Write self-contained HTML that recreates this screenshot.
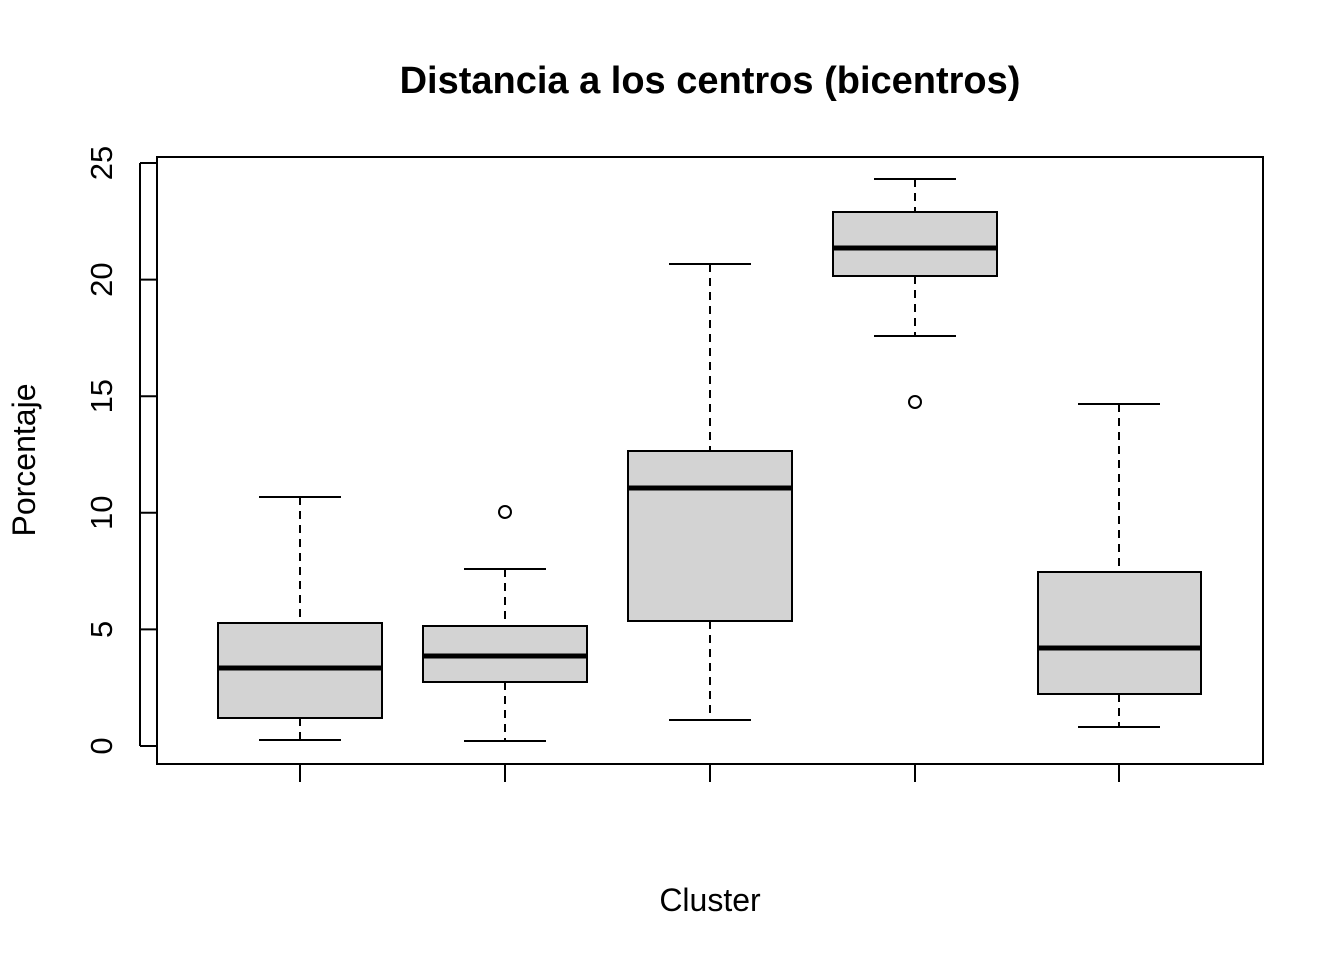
<!DOCTYPE html>
<html><head><meta charset="utf-8"><style>html,body{margin:0;padding:0;background:#fff}</style></head>
<body>
<svg width="1344" height="960" viewBox="0 0 1344 960" xmlns="http://www.w3.org/2000/svg" font-family="Liberation Sans, Arial, sans-serif">
<rect width="1344" height="960" fill="#fff"/>
<text x="710" y="93" text-anchor="middle" font-size="38" font-weight="bold">Distancia a los centros (bicentros)</text>
<text x="710" y="911" text-anchor="middle" font-size="32">Cluster</text>
<text transform="translate(35,460) rotate(-90)" text-anchor="middle" font-size="32">Porcentaje</text>
<g stroke="#000" stroke-width="2" fill="none">
<rect x="157" y="157" width="1106" height="607"/>
<line x1="140" y1="163" x2="140" y2="746"/>
<line x1="140" y1="746" x2="157" y2="746"/>
<line x1="140" y1="629.4" x2="157" y2="629.4"/>
<line x1="140" y1="512.8" x2="157" y2="512.8"/>
<line x1="140" y1="396.2" x2="157" y2="396.2"/>
<line x1="140" y1="279.6" x2="157" y2="279.6"/>
<line x1="140" y1="163" x2="157" y2="163"/>
<line x1="300" y1="764" x2="300" y2="782"/>
<line x1="505" y1="764" x2="505" y2="782"/>
<line x1="710" y1="764" x2="710" y2="782"/>
<line x1="915" y1="764" x2="915" y2="782"/>
<line x1="1119" y1="764" x2="1119" y2="782"/>
</g>
<g font-size="31" text-anchor="middle">
<text transform="translate(112,746) rotate(-90)">0</text>
<text transform="translate(112,629.4) rotate(-90)">5</text>
<text transform="translate(112,512.8) rotate(-90)">10</text>
<text transform="translate(112,396.2) rotate(-90)">15</text>
<text transform="translate(112,279.6) rotate(-90)">20</text>
<text transform="translate(112,163) rotate(-90)">25</text>
</g>
<g stroke="#000" stroke-width="2">
<line x1="300" y1="497" x2="300" y2="623" stroke-dasharray="8,6"/>
<line x1="300" y1="718" x2="300" y2="740" stroke-dasharray="8,6"/>
<line x1="259" y1="497" x2="341" y2="497"/><line x1="259" y1="740" x2="341" y2="740"/>
<rect x="218" y="623" width="164" height="95" fill="#d3d3d3"/>
<line x1="218" y1="668" x2="382" y2="668" stroke-width="5"/>
<line x1="505" y1="569" x2="505" y2="626" stroke-dasharray="8,6"/>
<line x1="505" y1="682" x2="505" y2="741" stroke-dasharray="8,6"/>
<line x1="464" y1="569" x2="546" y2="569"/><line x1="464" y1="741" x2="546" y2="741"/>
<rect x="423" y="626" width="164" height="56" fill="#d3d3d3"/>
<line x1="423" y1="656" x2="587" y2="656" stroke-width="5"/>
<circle cx="505" cy="512" r="6" fill="none"/>
<line x1="710" y1="264" x2="710" y2="451" stroke-dasharray="8,6"/>
<line x1="710" y1="621" x2="710" y2="720" stroke-dasharray="8,6"/>
<line x1="669" y1="264" x2="751" y2="264"/><line x1="669" y1="720" x2="751" y2="720"/>
<rect x="628" y="451" width="164" height="170" fill="#d3d3d3"/>
<line x1="628" y1="488" x2="792" y2="488" stroke-width="5"/>
<line x1="915" y1="179" x2="915" y2="212" stroke-dasharray="8,6"/>
<line x1="915" y1="276" x2="915" y2="336" stroke-dasharray="8,6"/>
<line x1="874" y1="179" x2="956" y2="179"/><line x1="874" y1="336" x2="956" y2="336"/>
<rect x="833" y="212" width="164" height="64" fill="#d3d3d3"/>
<line x1="833" y1="248" x2="997" y2="248" stroke-width="5"/>
<circle cx="915" cy="402" r="6" fill="none"/>
<line x1="1119" y1="404" x2="1119" y2="572" stroke-dasharray="8,6"/>
<line x1="1119" y1="694" x2="1119" y2="727" stroke-dasharray="8,6"/>
<line x1="1078" y1="404" x2="1160" y2="404"/><line x1="1078" y1="727" x2="1160" y2="727"/>
<rect x="1038" y="572" width="163" height="122" fill="#d3d3d3"/>
<line x1="1038" y1="648" x2="1201" y2="648" stroke-width="5"/>
</g>
</svg>
</body></html>
